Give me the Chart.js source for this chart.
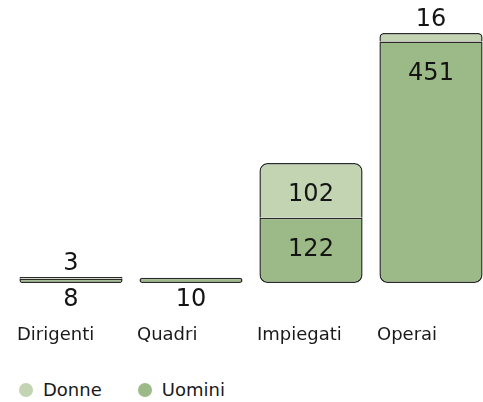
<!DOCTYPE html>
<html>
<head>
<meta charset="utf-8">
<script src="https://cdn.jsdelivr.net/npm/chart.js@4/dist/chart.umd.min.js"></script>
<style>
  html, body { margin: 0; padding: 0; background: #fff; overflow: hidden; }
  #wrap { position: relative; width: 483px; height: 402px; overflow: hidden; }
  #chartBox { position: absolute; left: 0; top: 0; width: 500px; height: 352px; }
  #legend {
    position: absolute; left: 19px; top: 379px;
    display: flex; align-items: center;
    font-family: "DejaVu Sans"; font-size: 18px; line-height: 22px; color: #1a1a1a;
  }
  .item { display: flex; align-items: center; margin-right: 36px; }
  .dot { width: 14px; height: 14px; border-radius: 50%; margin-right: 10px; }
</style>
</head>
<body>
<div id="wrap">
  <div id="chartBox"><canvas id="staffChart"></canvas></div>
  <div id="legend"></div>
</div>
<script>
/* ---------------- DATA ---------------- */
const categories = ["Dirigenti", "Quadri", "Impiegati", "Operai"];
const uomini = [8, 10, 122, 451];
const donne = [3, 0, 102, 16];

const colDonne = "#c2d4b1";
const colUomini = "#9cba87";
const colBorder = "#2b2b2b";

/* ---------------- VALUE LABELS ---------------- */
const valueLabels = {
    id: "valueLabels",
    afterDatasetsDraw(chart) {
        const ctx = chart.ctx;
        ctx.save();
        ctx.font = "24px 'DejaVu Sans'";
        ctx.fillStyle = "#141414";
        ctx.textAlign = "center";
        ctx.textBaseline = "alphabetic";

        chart.data.datasets.forEach((ds, di) => {
            const meta = chart.getDatasetMeta(di);
            meta.data.forEach((bar, i) => {
                const v = ds.values[i];
                if (!v) return;
                const top = bar.y;
                const bottom = bar.base;
                const h = bottom - top;
                let cy;
                if (ds.label === "Donne") {
                    // inside when it fits, otherwise above the bar
                    cy = h >= 30 ? (top + bottom) / 2 + 2 : top - 15.5;
                } else {
                    // near the top of the segment, otherwise under the bar
                    cy = h >= 50 ? top + 30 : bottom + 14;
                }
                ctx.fillText(String(v), bar.x, cy + 8.7);
            });
        });
        ctx.restore();
    }
};

/* ---------------- CHART ---------------- */
const ctx = document.getElementById("staffChart");

const staffChart = new Chart(ctx, {
    type: "bar",
    data: {
        labels: categories,
        datasets: [
            {
                label: "Uomini",
                values: uomini,
                data: uomini.map(v => [0, v]),
                backgroundColor: colUomini,
                borderColor: colBorder,
                borderWidth: 1.5,
                borderSkipped: false,
                borderRadius: c => donne[c.dataIndex] > 0
                    ? { topLeft: 0, topRight: 0, bottomLeft: 8, bottomRight: 8 }
                    : 8
            },
            {
                label: "Donne",
                values: donne,
                data: donne.map((v, i) => v ? [uomini[i], uomini[i] + v] : null),
                backgroundColor: colDonne,
                borderColor: colBorder,
                borderWidth: 1.5,
                borderSkipped: "bottom",
                borderRadius: { topLeft: 8, topRight: 8, bottomLeft: 0, bottomRight: 0 }
            }
        ]
    },
    options: {
        responsive: true,
        maintainAspectRatio: false,
        animation: false,
        devicePixelRatio: 1,
        layout: { padding: { left: 11, right: 9, top: 10, bottom: 6 } },
        datasets: {
            bar: { categoryPercentage: 1, barPercentage: 0.86 }
        },
        scales: {
            x: {
                stacked: true,
                grid: { display: false, drawTicks: false },
                border: { display: false },
                ticks: {
                    align: "start",
                    labelOffset: -54,
                    padding: 41.5,
                    autoSkip: false,
                    maxRotation: 0,
                    color: "#1a1a1a",
                    font: { family: "DejaVu Sans", size: 18 }
                },
                afterFit(scale) {
                    // keep the plot full width, labels sit under the bars
                    scale.paddingLeft = 0;
                    scale.paddingRight = 0;
                    scale.height = 63;
                }
            },
            y: {
                display: false,
                min: 0,
                max: 510
            }
        },
        plugins: {
            legend: { display: false },
            tooltip: { enabled: false }
        }
    },
    plugins: [valueLabels]
});

/* ---------------- LEGEND ---------------- */
const legendBox = document.getElementById("legend");
["Donne", "Uomini"].forEach(name => {
    const ds = staffChart.data.datasets.find(d => d.label === name);
    const item = document.createElement("div");
    item.className = "item";
    const dot = document.createElement("span");
    dot.className = "dot";
    dot.style.background = ds.backgroundColor;
    const txt = document.createElement("span");
    txt.textContent = name;
    item.appendChild(dot);
    item.appendChild(txt);
    legendBox.appendChild(item);
});
</script>
</body>
</html>
